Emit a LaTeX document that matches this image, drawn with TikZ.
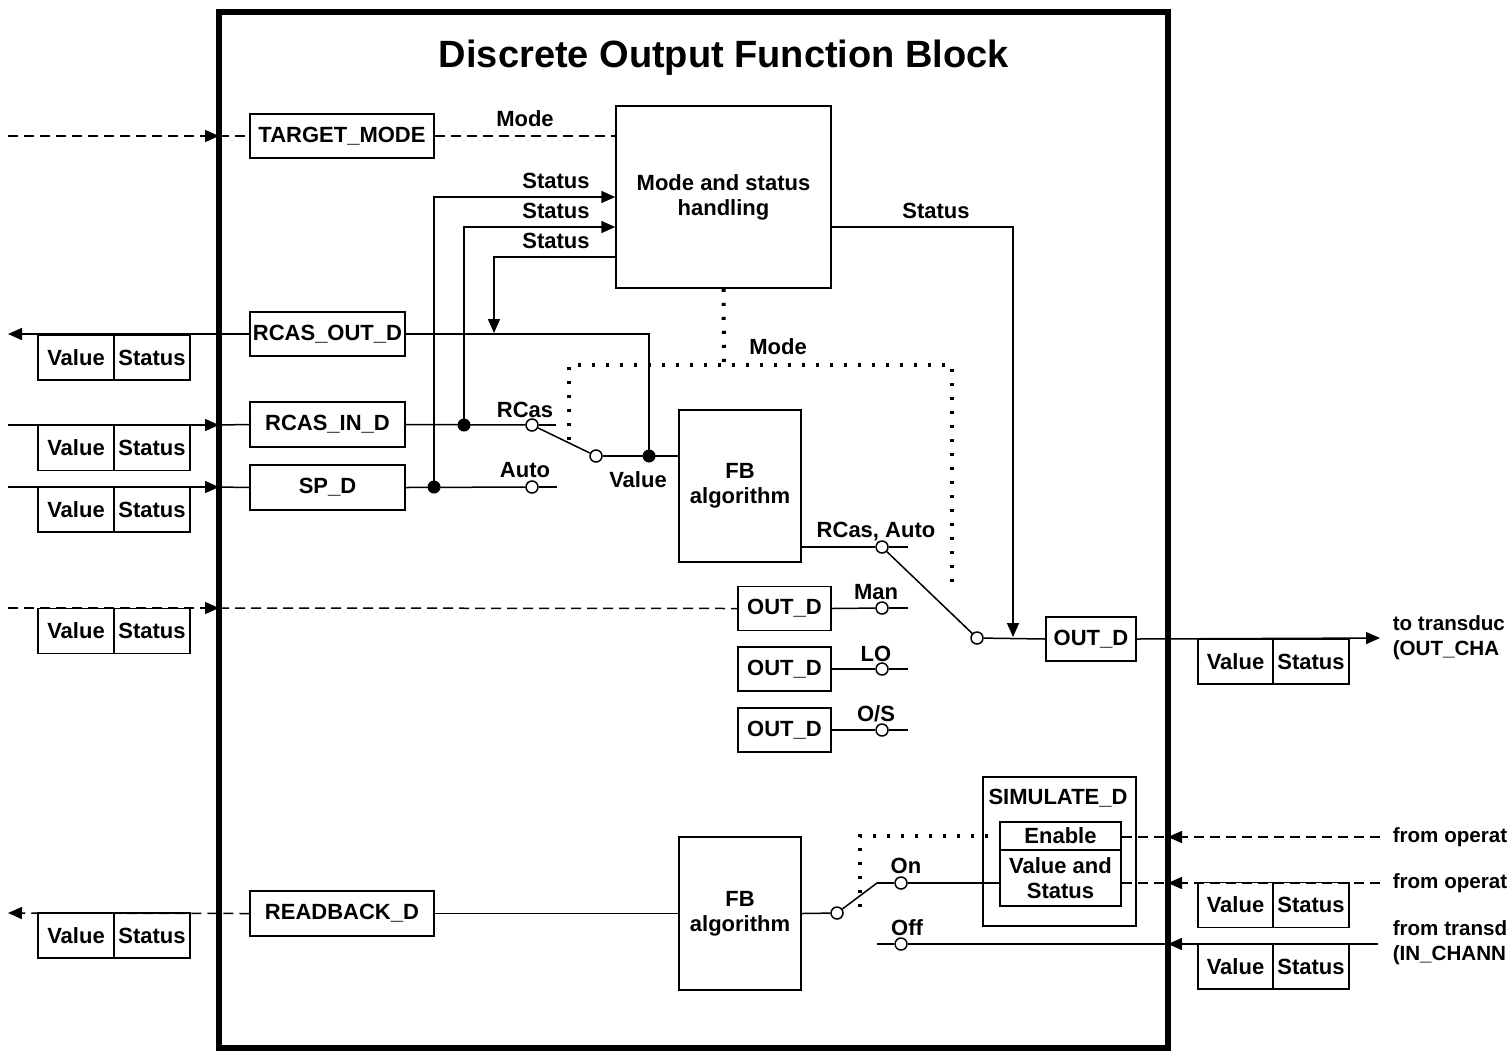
\documentclass[tikz,border=0pt]{standalone}
\usepackage{fontspec}
\setmainfont{Liberation Sans}
\usetikzlibrary{arrows.meta,calc}
\begin{document}
\begin{tikzpicture}[x=0.5pt,y=-0.5pt, line width=0.75pt,
  lab/.style={font=\fontsize{11}{12.5}\selectfont\bfseries},
  box/.style={draw, inner sep=0pt, lab, align=center},
  vs/.style={draw, minimum width=38pt, minimum height=22.5pt, inner sep=0pt, lab},
  arr/.style={-{Triangle[length=7pt,width=6pt]}},
  dsh/.style={dash pattern=on 5pt off 3pt},
  dotl/.style={line width=2pt, dash pattern=on 1.6pt off 5.4pt},
  opn/.style={circle, draw, fill=white, minimum size=6pt, inner sep=0pt},
  jdot/.style={circle, fill=black, minimum size=6.5pt, inner sep=0pt},
  tag/.style={lab, inner sep=1pt},
  rtag/.style={font=\fontsize{10.3}{12.5}\selectfont\bfseries, inner sep=0pt, anchor=west, align=left}
]
\useasboundingbox (0,0) rectangle (1507,1050);
% outer block
\draw[line width=2.6pt] (219,12) rectangle (1168,1048);
\node[font=\fontsize{19}{22}\selectfont\bfseries] (title) at (724,58) {Discrete Output Function Block};

% main boxes
\node[box, minimum width=92pt, minimum height=22pt] (tm) at (342,136) {TARGET\_MODE};
\node[box, minimum width=107.5pt, minimum height=91pt] (msh) at (723.5,197) {Mode and status\\handling};
\node[box, minimum width=77.5pt, minimum height=22pt] (ro) at (327.5,334) {RCAS\_OUT\_D};
\node[box, minimum width=77.5pt, minimum height=22.5pt] (ri) at (327.5,424.5) {RCAS\_IN\_D};
\node[box, minimum width=77.5pt, minimum height=22.5pt] (sp) at (327.5,487.5) {SP\_D};
\node[box, minimum width=61pt, minimum height=76pt] (fb1) at (740,486) {FB\\algorithm};
\node[box, minimum width=46.5pt, minimum height=22pt] (od1) at (784.5,608.5) {OUT\_D};
\node[box, minimum width=46.5pt, minimum height=22pt] (od2) at (784.5,669) {OUT\_D};
\node[box, minimum width=46.5pt, minimum height=22pt] (od3) at (784.5,730) {OUT\_D};
\node[box, minimum width=45pt, minimum height=22pt] (outd) at (1091,639) {OUT\_D};
\node[box, minimum width=92pt, minimum height=22.5pt] (rb) at (342,913.5) {READBACK\_D};
\node[box, minimum width=61pt, minimum height=76.5pt] (fb2) at (740,913.5) {FB\\algorithm};
\node[draw, minimum width=76.5pt, minimum height=74.5pt, inner sep=0pt] (sim) at (1059.5,851.5) {};
\node[tag] (simlab) at (1058,798) {SIMULATE\_D};
\node[box, minimum width=60.5pt, minimum height=14pt] (en) at (1060.5,836) {Enable};
\node[box, minimum width=60.5pt, minimum height=28pt] (vas) at (1060.5,878) {Value and\\Status};

% value/status pairs
\foreach \n/\y in {a/357.5,b/448,c/509.5,d/631,e/935.5}{
  \node[vs] (v\n) at (76,\y) {Value};
  \node[vs] (s\n) at (152,\y) {Status};
}
\foreach \n/\y in {f/661.5,g/905,h/966.5}{
  \node[vs, minimum width=37.5pt] (v\n) at (1235.5,\y) {Value};
  \node[vs] (s\n) at (1311,\y) {Status};
}

% junctions and contacts
\node[jdot] (d1) at (434,487) {};
\node[jdot] (d2) at (464,425) {};
\node[jdot] (d3) at (649,456) {};
\node[opn] (rcas) at (532,425) {};
\node[opn] (auto) at (532,487) {};
\node[opn] (val) at (596,456) {};
\node[opn] (rca) at (882,547) {};
\node[opn] (man) at (882,608) {};
\node[opn] (lo) at (882,669) {};
\node[opn] (os) at (882,730) {};
\node[opn] (out) at (977,638) {};
\node[opn] (ssw) at (837,913) {};
\node[opn] (on) at (901,883) {};
\node[opn] (off) at (901,944) {};

% named free ends
\coordinate (iTM) at (8,136);   \coordinate (bTM) at (219,136);
\coordinate (oRO) at (8,334);
\coordinate (iRI) at (8,425);   \coordinate (bRI) at (219,425);
\coordinate (iSP) at (8,487);   \coordinate (bSP) at (219,487);
\coordinate (iMan) at (8,608);  \coordinate (bMan) at (219,608);
\coordinate (oRB) at (8,913);
\coordinate (oOUT) at (1380,638);
\coordinate (s3) at (494,333);
\coordinate (oj) at (1013,637);
\coordinate (mj) at (724,365);
\coordinate (mL) at (569,440);
\coordinate (mR) at (952,365);
\coordinate (mRe) at (952,592);
\coordinate (sL) at (860,907);
\coordinate (iEn) at (1380,837); \coordinate (bEn) at (1168,837);
\coordinate (iVs) at (1380,883); \coordinate (bVs) at (1168,883);
\coordinate (iOff) at (1378,944); \coordinate (bOff) at (1168,944);
\coordinate (rcasS) at (556,425);
\coordinate (autoS) at (557,487);
\coordinate (rcaS) at (908,547);
\coordinate (manS) at (908,608);
\coordinate (loS) at (908,669);
\coordinate (osS) at (908,730);
\coordinate (onS) at (877,883);
\coordinate (offS) at (877,944);

% TARGET_MODE
\draw[dsh,arr] (iTM) -- (bTM);
\draw[dsh] (bTM) -- (tm.west);
\draw[dsh] (tm.east) -- (tm.east -| msh.west);
\node[tag] (lmode) at (525,119) {Mode};

% status lines
\draw[arr] (d1.center) |- (msh.west);
\draw[arr] (d2.center) |- ($(msh.west)+(0,30)$);
\draw[arr] ($(msh.west)+(0,60)$) -| (s3);
\draw[arr] ($(msh.east)+(0,30)$) -| (oj);
\node[tag] (ls1) at (556,181) {Status};
\node[tag] (ls2) at (556,211) {Status};
\node[tag] (ls3) at (556,241) {Status};
\node[tag] (ls4) at (936,211) {Status};

% RCAS_OUT_D
\draw[arr] (ro.west) -- (oRO);
\draw (ro.east) -| (d3.center);

% RCAS_IN_D and SP_D
\draw[arr] (iRI) -- (bRI);
\draw (bRI) -- (ri.west);
\draw (ri.east) -- (rcas);
\draw (rcas) -- (rcasS);
\draw[arr] (iSP) -- (bSP);
\draw (bSP) -- (sp.west);
\draw (sp.east) -- (auto);
\draw (auto) -- (autoS);
\draw (rcas) -- (val);
\draw (val) -- (val -| fb1.west);
\node[tag] (lrcas) at (525,410) {RCas};
\node[tag] (lauto) at (525,470) {Auto};
\node[tag] (lval) at (638,480) {Value};

% FB output and switch
\draw (rca -| fb1.east) -- (rca);
\draw (rca) -- (rcaS);
\draw (rca) -- (out);
\node[tag] (lra) at (876,532) {RCas, Auto};
\draw (out) -- (outd.west);
\draw[arr] (outd.east) -- (oOUT);

% Man / LO / O/S
\draw[dsh,arr] (iMan) -- (bMan);
\draw[dsh] (bMan) -- (od1.west);
\draw (od1.east) -- (man);  \draw (man) -- (manS);
\draw (od2.east) -- (lo);   \draw (lo) -- (loS);
\draw (od3.east) -- (os);   \draw (os) -- (osS);
\node[tag] (lman) at (876,592) {Man};
\node[tag] (llo) at (876,654) {LO};
\node[tag] (los) at (876,714) {O/S};

% Mode dotted
\draw[dotl] (msh.south) -- (mj);
\draw[dotl] (mL) |- (mR) -- (mRe);
\node[tag] (lmode2) at (778,347) {Mode};

% readback
\draw[dsh,arr] (rb.west) -- (oRB);
\draw (rb.east) -- (fb2.west);
\draw (fb2.east) -- (ssw);
\draw (ssw) -- (onS);
\draw (onS) -- (on);
\draw (on) -- (on -| vas.west);
\draw (offS) -- (off);
\draw (off) -- (bOff);
\draw[arr] (iOff) -- (bOff);
\draw[dotl] (sL) |- (en.west);
\node[tag] (lon) at (906,866) {On};
\node[tag] (loff) at (907,928) {Off};

% simulate inputs
\draw[dsh] (en.east |- bEn) -- (bEn);
\draw[dsh,arr] (iEn) -- (bEn);
\draw[dsh] (vas.east |- bVs) -- (bVs);
\draw[dsh,arr] (iVs) -- (bVs);

% right side texts (as far as the picture shows them)
\node[rtag] (tOut) at (1392,638) {to transduc\\(OUT\_CHA};
\node[rtag] (tEn) at (1392,837) {from operat};
\node[rtag] (tVs) at (1392,883) {from operat};
\node[rtag] (tIn) at (1392,943) {from transd\\(IN\_CHANN};
\end{tikzpicture}
\end{document}
